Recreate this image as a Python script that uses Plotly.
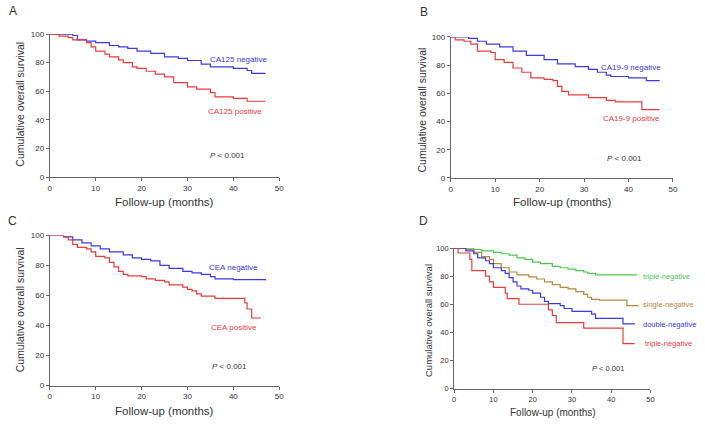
import plotly.graph_objects as go

W, H = 705, 432

# ---------------- Data ----------------
# Panel A
a_neg_t = [0, 5, 6, 8, 10, 13, 15, 17, 19, 22, 25, 28, 30, 33, 35, 40, 43, 44, 47]
a_neg_s = [100, 99, 96, 95, 94, 92, 91, 90, 88, 86.5, 84, 83, 81.5, 79, 77, 76, 74.5, 72.5, 72.5]
a_pos_t = [0, 2, 4, 5, 8, 9, 10, 12, 13, 15, 16, 18, 19, 21, 23, 25, 27, 30, 32, 35, 36, 40, 43, 47]
a_pos_s = [100, 98.5, 97.5, 96, 94, 91, 88, 86, 84, 82, 80, 77, 76, 74, 72, 70, 66, 63, 61.5, 59, 56, 55, 53, 53]

# Panel B
b_neg_t = [0, 4, 6, 8, 11, 14, 17, 21, 24, 28, 31, 33, 35, 36, 40, 44, 47]
b_neg_s = [100, 99, 97, 95, 93, 90, 87, 84, 81, 79, 77, 75, 73, 72, 71, 69, 69]
b_pos_t = [0, 1, 3, 4.5, 6, 9, 10, 12, 14, 16, 18, 21, 23, 24, 25, 26.5, 31, 35, 37, 43, 47]
b_pos_s = [100, 98, 97, 95, 90, 89, 84, 82, 78, 75, 71, 70, 69, 65, 61.5, 59, 57, 55, 54, 48.5, 48.5]

# Panel C
c_neg_t = [0, 3, 5, 7, 9, 11, 13, 16, 18, 20, 22, 24, 26, 29, 31, 33, 35, 36, 40, 47]
c_neg_s = [100, 99, 97, 95, 93, 91, 89, 87, 85, 84, 83, 80, 78, 76, 75, 74, 72.5, 71, 70.5, 70]
c_pos_t = [0, 3, 4, 5, 6, 8, 9, 10, 12, 13, 14, 15, 16, 17, 20, 21, 23, 25, 26, 29, 30, 31, 32, 33, 36, 42.5, 43, 44, 46]
c_pos_s = [100, 99, 97, 94, 92, 91, 89, 86, 85, 82, 79, 76, 74, 73, 72.5, 71, 70, 69, 67, 65.5, 64, 63, 61, 59.5, 58, 55, 51, 45, 45]

# Panel D
d_green_t = [0, 5, 7, 10, 12, 14, 16, 18, 20, 22, 25, 27, 29, 31, 33, 34, 36, 46.5]
d_green_s = [100, 99, 98, 97, 96, 95, 93, 92, 90, 89, 87, 86, 85, 84, 83, 82, 81, 81]
d_brown_t = [0, 3, 5, 7, 9, 10, 12, 14, 16, 19, 21, 23, 25, 27, 29, 31, 33, 34, 35, 37, 44, 47]
d_brown_s = [100, 99, 97, 94, 92, 89, 86, 83, 81, 79.5, 78, 76, 74, 72, 71, 69, 67, 65, 63.5, 63, 59, 59]
d_blue_t = [0, 3, 5, 6, 8, 9, 10, 12, 13, 14, 15, 16, 17, 19, 20, 22, 23, 24, 27, 28, 30, 35, 36, 43, 46]
d_blue_s = [100, 98, 96, 93, 91, 89, 86, 84, 82, 79, 76, 73, 71, 70, 68, 65, 62, 60.5, 59, 57, 55, 53, 50, 46, 46]
d_red_t = [0, 1, 4, 4.5, 8, 9, 10, 13, 13.5, 16.5, 24, 25, 26, 33, 43, 46]
d_red_s = [100, 96.5, 92, 84, 80, 76, 72, 68, 64, 60, 56, 52, 47, 43, 32, 32]

# ---------------- Styling ----------------
BLUE = "#3a3ae6"
RED = "#ec3b3b"
GREEN = "#4cc94c"
BROWN = "#b8883e"
AX = "#666666"
TXT = "#333333"
FONT = "Liberation Sans, Arial, sans-serif"

def px(x):
    return x / W

def py(y):
    return 1 - y / H

# panel geometry in pixels: (x_left, x_right, y_bottom, y_top)
panels = {
    "A": (48.3, 280.0, 176.7, 30.7),
    "B": (453.3, 677.7, 177.7, 33.7),
    "C": (48.3, 280.0, 389.7, 236.3),
    "D": (456.7, 655.0, 392.7, 249.3),
}
axis_ids = {"A": ("x", "y"), "B": ("x2", "y2"), "C": ("x3", "y3"), "D": ("x4", "y4")}

fig = go.Figure()

def add_line(panel, t, s, color):
    xa, ya = axis_ids[panel]
    fig.add_trace(go.Scatter(x=t, y=s, mode="lines", line=dict(color=color, width=1.2, shape="hv"),
                             xaxis=xa, yaxis=ya, showlegend=False, hoverinfo="skip"))

add_line("A", a_neg_t, a_neg_s, BLUE)
add_line("A", a_pos_t, a_pos_s, RED)
add_line("B", b_neg_t, b_neg_s, BLUE)
add_line("B", b_pos_t, b_pos_s, RED)
add_line("C", c_neg_t, c_neg_s, BLUE)
add_line("C", c_pos_t, c_pos_s, RED)
add_line("D", d_green_t, d_green_s, GREEN)
add_line("D", d_brown_t, d_brown_s, BROWN)
add_line("D", d_blue_t, d_blue_s, BLUE)
add_line("D", d_red_t, d_red_s, RED)

layout = dict(width=W, height=H, margin=dict(l=0, r=0, t=0, b=0),
              paper_bgcolor="white", plot_bgcolor="white", showlegend=False,
              font=dict(family=FONT, color=TXT))

for name, (xl, xr, yb, yt) in panels.items():
    xa, ya = axis_ids[name]
    xk = "xaxis" + xa[1:]
    yk = "yaxis" + ya[1:]
    fs = 7.5 if name == "D" else 8
    common = dict(showgrid=False, zeroline=False, showline=True, linecolor=AX, linewidth=1,
                  ticks="outside", ticklen=3, tickcolor=AX, tickwidth=1,
                  tickfont=dict(size=fs, color=TXT, family=FONT), fixedrange=True)
    layout[xk] = dict(domain=[px(xl), px(xr)], range=[0, 50], tickvals=[0, 10, 20, 30, 40, 50],
                      anchor=ya, **common)
    layout[yk] = dict(domain=[py(yb), py(yt)], range=[0, 100], tickvals=[0, 20, 40, 60, 80, 100],
                      anchor=xa, **common)

fig.update_layout(**layout)

ann = []

def paper_text(text, x, y, size, angle=0, color=TXT, anchor="center"):
    ann.append(dict(text=text, x=px(x), y=py(y), xref="paper", yref="paper", showarrow=False,
                    xanchor=anchor, yanchor="middle", textangle=angle,
                    font=dict(size=size, color=color, family=FONT)))

def data_text(panel, text, x, y, color, size=8):
    xa, ya = axis_ids[panel]
    ann.append(dict(text=text, x=x, y=y, xref=xa, yref=ya, showarrow=False,
                    xanchor="center", yanchor="middle",
                    font=dict(size=size, color=color, family=FONT)))

# panel letters
paper_text("A", 11, 7, 12)
paper_text("B", 426, 8, 12)
paper_text("C", 11, 222, 12)
paper_text("D", 426, 222, 12)

# axis titles
paper_text("Follow-up (months)", 164, 202, 11.5)
paper_text("Cumulative overall survival", 18, 102, 10.5, -90)
paper_text("Follow-up (months)", 566, 202, 11.5)
paper_text("Cumulative overall survival", 424, 108, 10.5, -90)
paper_text("Follow-up (months)", 164, 416, 11.5)
paper_text("Cumulative overall survival", 18, 312, 10.5, -90)
paper_text("Follow-up (months)", 557, 417, 10)
paper_text("Cumulative overall survival", 431, 323, 9.5, -90)

# curve labels
data_text("A", "CA125 negative", 41.2, 82, BLUE)
data_text("A", "CA125 positive", 40.4, 45.7, RED)
data_text("B", "CA19-9 negative", 40.6, 78.3, BLUE)
data_text("B", "CA19-9 positive", 40.6, 41.9, RED)
data_text("C", "CEA negative", 40.1, 78.7, BLUE)
data_text("C", "CEA positive", 40.1, 38.5, RED)
# panel D labels sit right of the x-range, so place them in paper coordinates
paper_text("triple-negative", 645.5, 278.3, 7.5, color=GREEN, anchor="left")
paper_text("single-negative", 645.5, 306.7, 7.5, color=BROWN, anchor="left")
paper_text("double-negative", 645.5, 327.7, 7.5, color=BLUE, anchor="left")
paper_text("triple-negative", 647.3, 346.3, 7.5, color=RED, anchor="left")

# p-values
data_text("A", "<i>P</i> < 0.001", 38.8, 14.9, TXT)
data_text("B", "<i>P</i> < 0.001", 39.0, 13.5, TXT)
data_text("C", "<i>P</i> < 0.001", 39.1, 12.8, TXT)
data_text("D", "<i>P</i> < 0.001", 39.1, 14.2, TXT, 7.5)

fig.update_layout(annotations=ann)
fig.write_html("out.html", config={"displayModeBar": False},
               post_script="document.body.style.margin='0';document.body.style.overflow='hidden';")
